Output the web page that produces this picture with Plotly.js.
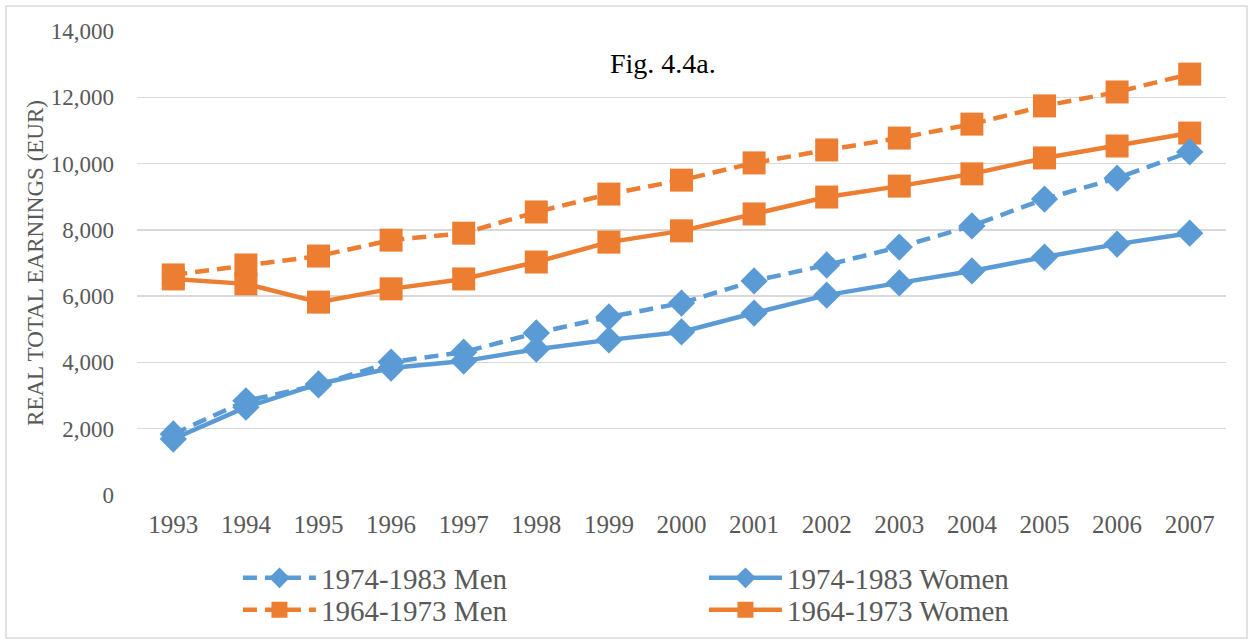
<!DOCTYPE html>
<html>
<head>
<meta charset="utf-8">
<script src="https://cdn.plot.ly/plotly-3.0.1.min.js"></script>
<style>html,body{margin:0;padding:0;background:#fff;}#chart{width:1253px;height:644px;}</style>
</head>
<body>
<div id="chart"></div>
<script>
const years = [1993,1994,1995,1996,1997,1998,1999,2000,2001,2002,2003,2004,2005,2006,2007];
const men7483   = [1840,2840,3320,4010,4310,4890,5370,5790,6460,6940,7480,8120,8930,9560,10350];
const women7483 = [1690,2650,3350,3830,4040,4400,4680,4920,5490,6030,6400,6760,7180,7570,7900];
const men6473   = [6640,6940,7210,7690,7900,8540,9080,9500,10020,10410,10770,11190,11740,12160,12700];
const women6473 = [6520,6370,5820,6220,6520,7030,7630,7970,8480,8990,9320,9690,10170,10530,10920];
const seriesNames = ["1974-1983 Men","1974-1983 Women","1964-1973 Men","1964-1973 Women"];
const yTicks = [0,2000,4000,6000,8000,10000,12000,14000];

const blue = "#5B9BD5", orange = "#ED7D31";
const FONT = "Liberation Serif";
const DASH = "14px,8px";

function tr(y, name, color, dash, symbol, size, legendId){
  return {x: years, y: y, name: name, type: "scatter", mode: "lines+markers",
    legend: legendId,
    line: {color: color, width: 4.5, dash: dash},
    marker: {color: color, symbol: symbol, size: size}};
}
const data = [
  tr(women6473, seriesNames[3], orange, "solid", "square", 23, "legend2"),
  tr(men6473, seriesNames[2], orange, DASH, "square", 23, "legend2"),
  tr(women7483, seriesNames[1], blue, "solid", "diamond", 21, "legend"),
  tr(men7483, seriesNames[0], blue, DASH, "diamond", 21, "legend")
];
function leg(yv){
  return {orientation: "h", traceorder: "reversed", x: 0.0927, y: yv, xanchor: "left", yanchor: "middle",
    bgcolor: "rgba(0,0,0,0)", entrywidth: 378, entrywidthmode: "pixels", itemwidth: 73,
    font: {family: FONT, size: 29, color: "#595959"}};
}
const layout = {
  width: 1253, height: 644,
  margin: {l: 137, r: 27, t: 31, b: 149, autoexpand: false},
  paper_bgcolor: "#fff", plot_bgcolor: "#fff",
  font: {family: FONT, color: "#595959", size: 23},
  showlegend: true,
  legend: leg(-0.1789),
  legend2: leg(-0.2478),
  xaxis: {range: [1992.5, 2007.5], tickmode: "array", tickvals: years, ticktext: years.map(String),
    showgrid: false, zeroline: false, showline: false, ticks: "", ticklabelstandoff: 12,
    tickfont: {family: FONT, size: 25, color: "#595959"}},
  yaxis: {range: [0, 14000], tickvals: yTicks, ticktext: yTicks.map(v => v.toLocaleString("en-US")),
    showgrid: true, gridcolor: "#D9D9D9", gridwidth: 1.3, zeroline: false, showline: false, ticks: "",
    ticklabelstandoff: 22,
    tickfont: {family: FONT, size: 23, color: "#595959"},
    title: {text: "REAL TOTAL EARNINGS (EUR)", font: {family: FONT, size: 23, color: "#595959"}, standoff: 0}},
  annotations: [{text: "Fig. 4.4a.", xref: "paper", yref: "paper", x: 0.483, y: 0.929,
    xanchor: "center", yanchor: "middle", showarrow: false,
    font: {family: FONT, size: 28, color: "#000"}}],
  shapes: [{type: "rect", xref: "paper", yref: "paper", x0: -0.1203, x1: 1.0193, y0: -0.308, y1: 1.0539,
    line: {color: "#D9D9D9", width: 1.5}}]
};
Plotly.newPlot("chart", data, layout, {displayModeBar: false, staticPlot: true});
</script>
</body>
</html>
